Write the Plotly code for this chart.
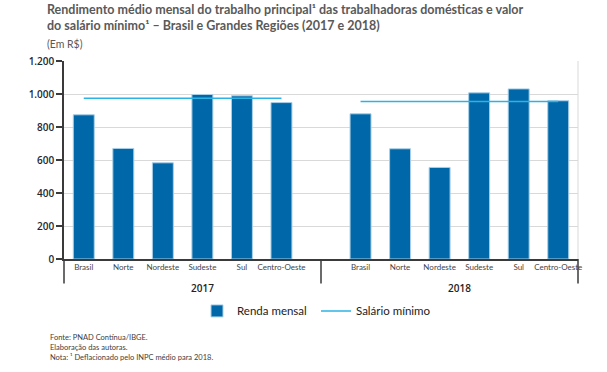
import plotly.graph_objects as go

regioes = ["Brasil", "Norte", "Nordeste", "Sudeste", "Sul", "Centro-Oeste"]
anos = ["2017", "2018"]
renda_2017 = [874, 670, 583, 997, 989, 948]
renda_2018 = [880, 668, 555, 1007, 1031, 959]
salario_2017 = 975
salario_2018 = 954
y_ticks = [0, 200, 400, 600, 800, 1000, 1200]

BAR = "#0068a8"
LINE = "#2cb3e6"
W, H = 607, 372
L, R, T, B = 64, 578, 61, 259.5

def px(x):
    return (x - L) / (R - L)

def py(y):
    return (B - y) / (B - T)

# category positions: 2017 -> 0..5, gap at 6, 2018 -> 7..12
x17 = list(range(len(regioes)))
x18 = [i + len(regioes) + 1 for i in range(len(regioes))]

fig = go.Figure()
fig.add_trace(go.Bar(
    x=x17 + x18, y=renda_2017 + renda_2018, name="Renda mensal",
    marker=dict(color=BAR, line=dict(color="#a9cfe8", width=1)),
    width=0.53,
))
fig.add_trace(go.Scatter(
    x=x17 + [None] + x18,
    y=[salario_2017] * len(x17) + [None] + [salario_2018] * len(x18),
    mode="lines", name="Salário mínimo",
    line=dict(color=LINE, width=1.5), connectgaps=False,
))

narrow = "Lato, Roboto, sans-serif"

fig.update_layout(
    width=W, height=H,
    margin=dict(l=L, r=W - R, t=T, b=H - B),
    paper_bgcolor="white", plot_bgcolor="white",
    separators=",.",
    showlegend=True,
    legend=dict(orientation="h", x=px(197), y=py(297), xanchor="left", yanchor="top",
                font=dict(family=narrow, size=11.5, color="#222"),
                entrywidth=74, entrywidthmode="pixels",
                bgcolor="rgba(0,0,0,0)"),
    xaxis=dict(
        range=[-0.5, 12.5],
        tickvals=x17 + x18, ticktext=regioes + regioes,
        tickfont=dict(family=narrow, size=8, color="#444"),
        showgrid=False, zeroline=False,
        showline=True, linecolor="#3a3a3a", linewidth=1.5,
        ticks="",
    ),
    yaxis=dict(
        range=[0, 1200], tickvals=y_ticks, tickformat=",d",
        tickfont=dict(family="Open Sans, sans-serif", size=10, color="#1c2833", weight=600),
        showgrid=True, gridcolor="#d9d9d9", gridwidth=1,
        zeroline=False,
        showline=True, linecolor="#3a3a3a", linewidth=1.5,
        ticks="outside", ticklen=6, tickcolor="#3a3a3a", tickwidth=1.5,
    ),
)

shapes = []
# right light border
shapes.append(dict(type="line", xref="paper", yref="paper", x0=1, x1=1, y0=0, y1=1,
                   line=dict(color="#d9d9d9", width=1)))
# axis extensions into the category area
ext = py(284)
for xp in [0, px(321), 1]:
    shapes.append(dict(type="line", xref="paper", yref="paper", x0=xp, x1=xp, y0=0, y1=ext,
                       line=dict(color="#3a3a3a", width=1.5)))
fig.update_layout(shapes=shapes)

annotations = [
    dict(text="Rendimento médio mensal do trabalho principal¹ das trabalhadoras domésticas e valor<br>"
              "do salário mínimo¹ – Brasil e Grandes Regiões (2017 e 2018)",
         xref="paper", yref="paper", x=px(45), y=py(0), xanchor="left", yanchor="top",
         align="left", showarrow=False,
         font=dict(family=narrow, size=12.5, color="#595959", weight="bold")),
    dict(text="(Em R$)", xref="paper", yref="paper", x=px(45), y=py(36), xanchor="left", yanchor="top",
         showarrow=False, font=dict(family=narrow, size=10.5, color="#595959")),
    dict(text=anos[0], xref="x", yref="paper", x=(x17[0] + x17[-1] + 1) / 2, y=py(289),
         xanchor="center", yanchor="middle", showarrow=False,
         font=dict(family="Open Sans, sans-serif", size=10, color="#222", weight=600)),
    dict(text=anos[1], xref="x", yref="paper", x=(x18[0] - 1 + x18[-1]) / 2 + 0.5, y=py(289),
         xanchor="center", yanchor="middle", showarrow=False,
         font=dict(family="Open Sans, sans-serif", size=10, color="#222", weight=600)),
    dict(text="Fonte: PNAD Contínua/IBGE.<br>Elaboração das autoras.<br>Nota: ¹ Deflacionado pelo INPC médio para 2018.",
         xref="paper", yref="paper", x=px(48), y=py(332), xanchor="left", yanchor="top",
         align="left", showarrow=False,
         font=dict(family=narrow, size=7.5, color="#404040")),
]
fig.update_layout(annotations=annotations)

fig.write_html("out.html", config={"displayModeBar": False},
               post_script="document.body.style.margin='0';")
